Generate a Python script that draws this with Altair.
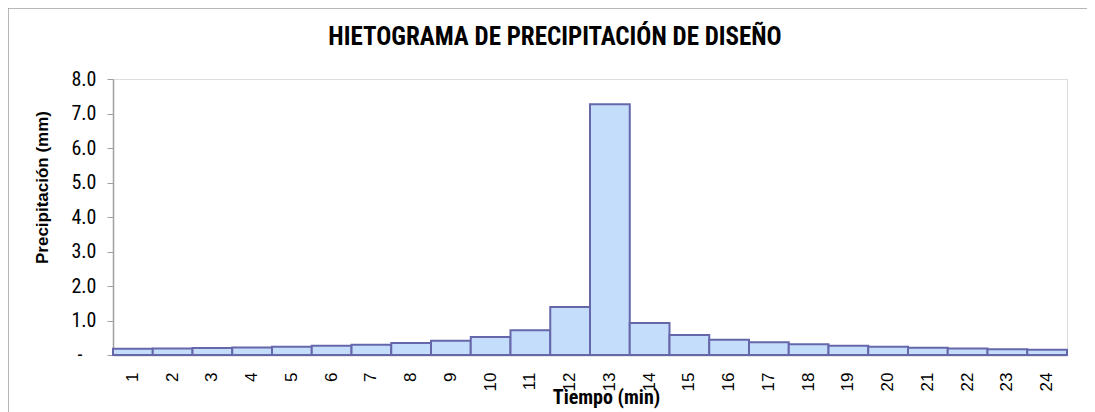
import altair as alt
import pandas as pd

tiempo = [str(i) for i in range(1, 25)]
precip = [0.18, 0.19, 0.20, 0.22, 0.24, 0.27, 0.30, 0.35, 0.41, 0.52, 0.72, 1.39,
          7.27, 0.93, 0.58, 0.44, 0.37, 0.31, 0.27, 0.24, 0.21, 0.19, 0.17, 0.155]
y_ticks = [0, 1, 2, 3, 4, 5, 6, 7, 8]
cero_valor = [0]
cero_texto = ["-"]
titulo = ["HIETOGRAMA DE PRECIPITACIÓN DE DISEÑO"]

df = pd.DataFrame({"t": tiempo, "p": precip})

NARROW = "Liberation Sans Narrow, Arial Narrow, Roboto Condensed, DejaVu Sans Condensed, sans-serif"
ARIAL = "Liberation Sans, Arial, sans-serif"

W, H = 954, 276

y_axis = alt.Axis(title="Precipitación (mm)", values=y_ticks, grid=False,
                  labelExpr="datum.value == 0 ? '' : format(datum.value, '.1f')",
                  labelFont=NARROW, labelFontSize=20, labelColor="black",
                  labelOverlap=False,
                  labelPadding=11, tickSize=6, tickColor="#A0A0A0",
                  domainColor="#A0A0A0", domainWidth=1.5,
                  titleFont=ARIAL, titleFontSize=17, titleFontWeight="bold",
                  titleColor="black", titleX=-71, titleY=108,
                  titleAngle=270, titleBaseline="middle", titleAlign="center")
y_scale = alt.Scale(domain=[0, 8])

frame = alt.Chart(pd.DataFrame({"a": [0]})).mark_rect(
    fillOpacity=0, stroke="#A0A0A0", strokeWidth=1.5
).encode(
    x=alt.value(-105), x2=alt.value(1400), y=alt.value(-71), y2=alt.value(600)
)

title = alt.Chart(pd.DataFrame({"txt": titulo})).mark_text(
    font=NARROW, fontSize=25, fontWeight="bold", color="black",
    align="center", baseline="middle"
).encode(text="txt:N", x=alt.value(442), y=alt.value(-42))

bars = alt.Chart(df).mark_bar(
    fill="#C4DDFB", stroke="#6667AA", strokeWidth=2
).encode(
    x=alt.X("t:N", sort=tiempo,
            scale=alt.Scale(paddingInner=0, paddingOuter=0),
            axis=alt.Axis(title="Tiempo (min)", labelAngle=270, ticks=False,
                          labelPadding=17, labelFont=ARIAL, labelFontSize=17,
                          labelColor="black", domainColor="#A0A0A0", domainWidth=1.5,
                          labelOverlap=False,
                          titleFont=NARROW, titleFontSize=20, titleFontWeight="bold",
                          titleColor="black", titleX=493, titleY=42,
                          titleBaseline="middle", titleAlign="center")),
    y=alt.Y("p:Q", scale=y_scale, axis=y_axis)
)

cero = alt.Chart(pd.DataFrame({"p": cero_valor, "lab": cero_texto})).mark_text(
    font=NARROW, fontSize=20, color="black", align="center", baseline="middle"
).encode(y=alt.Y("p:Q", scale=y_scale, axis=y_axis), x=alt.value(-33), text="lab:N")

chart = alt.layer(frame, title, bars, cero).properties(
    width=W, height=H,
    autosize=alt.AutoSizeParams(type="none"),
    padding={"left": 105, "top": 71, "right": 20, "bottom": 57},
).configure_view(stroke=None).configure(background="white")

chart.save("out.html", embed_options={"renderer": "svg", "actions": False})
